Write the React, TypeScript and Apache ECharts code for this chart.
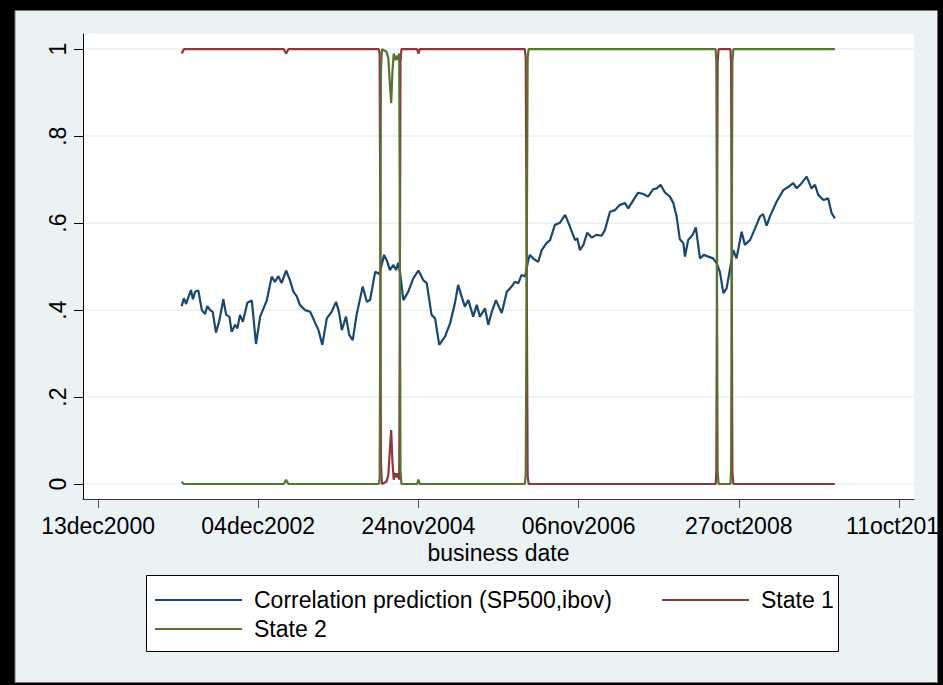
import React, { useEffect, useRef } from "react";
import * as echarts from "echarts";

// x axis: business days counted from 13dec2000
const xTickValues = [0, 500, 1000, 1500, 2000, 2500];
const xTickLabels = ["13dec2000", "04dec2002", "24nov2004", "06nov2006", "27oct2008", "11oct2010"];
const yTickValues = [0, 0.2, 0.4, 0.6, 0.8, 1];
const yTickLabels = ["0", ".2", ".4", ".6", ".8", "1"];

const seriesNames = ["Correlation prediction (SP500,ibov)", "State 1", "State 2"];
const seriesColors = ["#1a476f", "#90353b", "#55752f"];

const corrDays = [
  261, 268, 275, 282, 290, 296, 303, 313, 324, 334, 341, 350, 358, 368, 379, 391, 400, 410, 417, 428,
  435, 443, 452, 466, 480, 493, 506, 527, 542, 552, 563, 573, 587, 599, 610, 620, 630, 646, 662, 674,
  688, 700, 714, 729, 743, 752, 761, 774, 784, 795, 807, 826, 839, 849, 865, 878, 893, 903, 911, 922,
  930, 937, 943, 953, 968, 984, 1000, 1015, 1026, 1041, 1052, 1065, 1083, 1099, 1114, 1124, 1135, 1145, 1156, 1171,
  1182, 1192, 1208, 1218, 1229, 1242, 1260, 1276, 1291, 1301, 1312, 1322, 1333, 1343, 1348, 1359, 1374, 1385, 1400, 1411,
  1426, 1442, 1458, 1473, 1489, 1496, 1504, 1515, 1527, 1541, 1556, 1572, 1582, 1598, 1614, 1629, 1645, 1655, 1671, 1686,
  1702, 1717, 1733, 1744, 1756, 1770, 1785, 1796, 1806, 1816, 1827, 1832, 1842, 1856, 1866, 1879, 1891, 1905, 1920, 1931,
  1941, 1952, 1962, 1972, 1983, 1993, 2009, 2019, 2035, 2051, 2066, 2076, 2087, 2097, 2118, 2139, 2154, 2170, 2181, 2196,
  2212, 2227, 2238, 2248, 2264, 2279, 2290, 2300,
];
const corrValues = [
  0.409, 0.427, 0.414, 0.43, 0.446, 0.425, 0.442, 0.445, 0.4, 0.391, 0.409, 0.4, 0.396, 0.348, 0.377, 0.425, 0.389, 0.385, 0.35, 0.366,
  0.358, 0.389, 0.373, 0.417, 0.422, 0.322, 0.385, 0.423, 0.477, 0.465, 0.478, 0.462, 0.491, 0.469, 0.442, 0.432, 0.412, 0.4, 0.396, 0.377,
  0.354, 0.32, 0.381, 0.396, 0.419, 0.396, 0.354, 0.385, 0.343, 0.331, 0.389, 0.454, 0.419, 0.423, 0.488, 0.483, 0.527, 0.511, 0.492, 0.504,
  0.492, 0.509, 0.485, 0.423, 0.442, 0.473, 0.491, 0.469, 0.462, 0.389, 0.381, 0.32, 0.339, 0.37, 0.416, 0.458, 0.431, 0.408, 0.423, 0.385,
  0.412, 0.385, 0.404, 0.366, 0.396, 0.423, 0.393, 0.442, 0.454, 0.465, 0.462, 0.481, 0.477, 0.515, 0.527, 0.518, 0.511, 0.538, 0.554, 0.561,
  0.596, 0.601, 0.619, 0.592, 0.561, 0.565, 0.538, 0.55, 0.578, 0.567, 0.573, 0.571, 0.584, 0.626, 0.63, 0.642, 0.646, 0.634, 0.653, 0.67,
  0.667, 0.661, 0.678, 0.68, 0.688, 0.67, 0.661, 0.646, 0.615, 0.563, 0.554, 0.523, 0.561, 0.573, 0.59, 0.519, 0.527, 0.523, 0.519, 0.508,
  0.488, 0.439, 0.45, 0.492, 0.538, 0.519, 0.58, 0.55, 0.561, 0.588, 0.615, 0.621, 0.594, 0.615, 0.649, 0.676, 0.683, 0.692, 0.68, 0.692,
  0.707, 0.68, 0.688, 0.665, 0.653, 0.657, 0.623, 0.611,
];

const stateDays = [
  261, 268, 580, 587, 594, 876, 879, 881, 883, 886, 900, 906, 911, 915, 919, 923, 928, 933, 936, 940,
  942, 944, 947, 996, 1000, 1004, 1332, 1335, 1338, 1341, 1344, 1928, 1930, 1932, 1934, 1937, 1974, 1976, 1978, 1980,
  1983, 2300,
];
const state1Values = [
  0.99, 1, 1, 0.99, 1, 1, 0.99, 0.6, 0.05, 0, 0.005, 0.02, 0.08, 0.124, 0.05, 0.01, 0.025, 0.015, 0.025, 0.01,
  0.4, 0.97, 1, 1, 0.99, 1, 1, 0.98, 0.5, 0.02, 0, 0, 0.03, 0.5, 0.97, 1, 1, 0.97, 0.5, 0.03,
  0, 0,
];
const state2Values = [
  0.005, 0, 0, 0.01, 0, 0, 0.01, 0.4, 0.95, 1, 0.995, 0.98, 0.92, 0.876, 0.95, 0.99, 0.975, 0.985, 0.975, 0.99,
  0.6, 0.03, 0, 0, 0.01, 0, 0, 0.02, 0.5, 0.98, 1, 1, 0.97, 0.5, 0.03, 0, 0, 0.03, 0.5, 0.97,
  1, 1,
];

const FONT = "'Liberation Sans', Arial, sans-serif";
const FS = 23;

function pairs(xs: number[], ys: number[]) {
  return xs.map((x, i) => [x, ys[i]]);
}

export default function App() {
  const ref = useRef<HTMLDivElement>(null);
  useEffect(() => {
    document.body.style.margin = "0";
    if (!ref.current) return;
    const chart = echarts.init(ref.current, null, { renderer: "svg" });
    const legendBase = {
      icon: "rect",
      itemWidth: 87,
      itemHeight: 2,
      padding: 0,
      selectedMode: false,
      textStyle: { fontFamily: FONT, fontSize: FS, color: "#000", lineHeight: 26, padding: [0, 0, 0, 7] },
    };
    chart.setOption({
      animation: false,
      textStyle: { fontFamily: FONT },
      graphic: {
        elements: [
          { type: "rect", z: -100, silent: true, shape: { x: 0, y: 0, width: 943, height: 685 }, style: { fill: "#000" } },
          {
            type: "rect", z: -99, silent: true,
            shape: { x: 15, y: 10.5, width: 922.5, height: 672 },
            style: { fill: "#eaf2f3", stroke: "#6f7375", lineWidth: 1 },
          },
          {
            type: "rect", z: -98, silent: true,
            shape: { x: 146.5, y: 575.5, width: 692, height: 76 },
            style: { fill: "#ffffff", stroke: "#000", lineWidth: 1 },
          },
          { type: "rect", z: 100, silent: true, shape: { x: 938, y: 0, width: 5, height: 685 }, style: { fill: "#000" } },
        ],
      },
      grid: {
        left: 83, right: 29, top: 34, bottom: 186,
        show: true, backgroundColor: "#ffffff", borderWidth: 0,
        containLabel: false, outerBoundsMode: "none",
      },
      xAxis: {
        type: "value",
        min: -47,
        max: 2547,
        name: "business date",
        nameLocation: "middle",
        nameGap: 36,
        nameTextStyle: { fontFamily: FONT, fontSize: FS, color: "#000" },
        axisLine: { show: true, onZero: false, lineStyle: { color: "#333", width: 1 } },
        axisTick: { show: true, length: 9, customValues: xTickValues, lineStyle: { color: "#555", width: 1 } },
        axisLabel: {
          customValues: xTickValues,
          margin: 15,
          fontFamily: FONT,
          fontSize: FS,
          color: "#000",
          hideOverlap: false,
          formatter: (v: number) => {
            const i = xTickValues.findIndex((t) => Math.abs(t - v) < 1e-6);
            return i >= 0 ? xTickLabels[i] : "";
          },
        },
        splitLine: { show: false },
      },
      yAxis: {
        type: "value",
        min: -0.0345,
        max: 1.035,
        axisLine: { show: true, onZero: false, lineStyle: { color: "#000", width: 1 } },
        axisTick: { show: true, length: 9, customValues: yTickValues, lineStyle: { color: "#000", width: 1 } },
        axisLabel: {
          customValues: yTickValues,
          rotate: 90,
          margin: 14,
          fontFamily: FONT,
          fontSize: FS,
          color: "#000",
          formatter: (v: number) => {
            const i = yTickValues.findIndex((t) => Math.abs(t - v) < 1e-6);
            return i >= 0 ? yTickLabels[i] : "";
          },
        },
        splitLine: { show: true, lineStyle: { color: "#eaf2f3", width: 1.5 } },
      },
      legend: [
        { ...legendBase, data: [seriesNames[0]], left: 155, top: 587 },
        { ...legendBase, data: [seriesNames[1]], left: 662, top: 587 },
        { ...legendBase, data: [seriesNames[2]], left: 155, top: 616 },
      ],
      series: [
        { name: seriesNames[0], type: "line", data: pairs(corrDays, corrValues) },
        { name: seriesNames[1], type: "line", data: pairs(stateDays, state1Values) },
        { name: seriesNames[2], type: "line", data: pairs(stateDays, state2Values) },
      ].map((s, i) => ({
        ...s,
        showSymbol: false,
        symbol: "none",
        color: seriesColors[i],
        itemStyle: { color: seriesColors[i] },
        lineStyle: { color: seriesColors[i], width: 2.2 },
        emphasis: { disabled: true },
      })),
    });
    return () => chart.dispose();
  }, []);
  return <div ref={ref} style={{ position: "absolute", left: 0, top: 0, width: 943, height: 685 }} />;
}
